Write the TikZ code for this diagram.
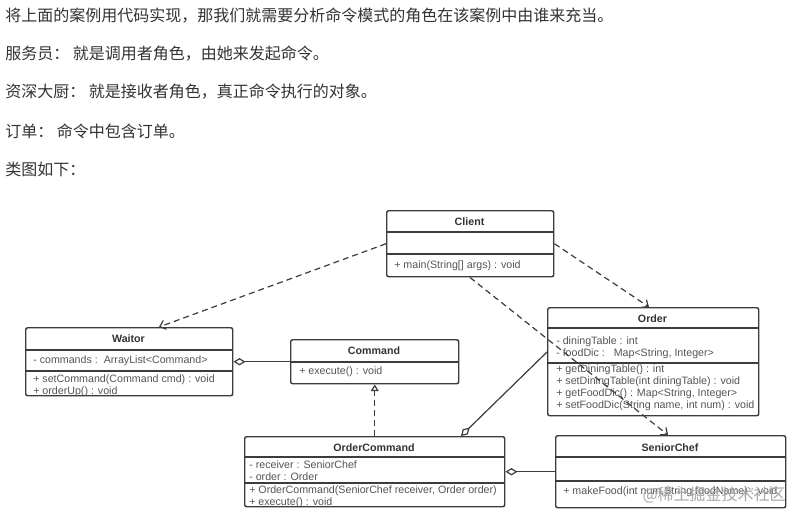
\documentclass[tikz,border=0pt]{standalone}
\usepackage{fontspec}
\setmainfont{Noto Sans CJK SC}
\newfontfamily\umlfont{Liberation Sans}
\usetikzlibrary{arrows.meta,calc}
\definecolor{txt}{HTML}{333333}
\definecolor{linec}{HTML}{3C3C3C}
\definecolor{umltxt}{HTML}{555555}
\tikzset{
  umlbox/.style={draw=linec, line width=1.1pt, rounded corners=1.5pt, inner sep=0pt, anchor=north west, fill=white},
  sepline/.style={draw=linec, line width=1pt},
  ttl/.style={font=\umlfont\bfseries\fontsize{8}{9.5}\selectfont, text=txt, inner sep=0pt},
  mem/.style={font=\umlfont\fontsize{8}{9.5}\selectfont, text=umltxt, inner sep=0pt, anchor=west},
  para/.style={font=\fontsize{12}{14}\selectfont, text=txt, inner sep=0pt, anchor=west},
  dep/.style={draw=linec, line width=0.9pt, dash pattern=on 4.5pt off 3pt, -{Straight Barb[length=4pt,width=7pt]}},
  real/.style={draw=linec, line width=0.9pt, dash pattern=on 4.5pt off 3pt, -{Triangle[open,length=5pt,width=6pt]}},
  aggr/.style={draw=linec, line width=0.9pt, {Diamond[open,length=9pt,width=5.5pt]}-},
}
\begin{document}
\begin{tikzpicture}[x=0.75pt,y=-0.75pt]
\useasboundingbox[fill=white] (0,0) rectangle (793,515);

% intro text
\node[para] (t1) at (5,16) {将上面的案例用代码实现，那我们就需要分析命令模式的角色在该案例中由谁来充当。};
\node[para] (t2) at (5,54) {服务员： 就是调用者角色，由她来发起命令。};
\node[para] (t3) at (5,92) {资深大厨： 就是接收者角色，真正命令执行的对象。};
\node[para] (t4) at (5,131) {订单： 命令中包含订单。};
\node[para] (t5) at (5,169) {类图如下：};

% Client
\node[umlbox, minimum width=167*0.75pt, minimum height=66*0.75pt] (client) at (386,210) {};
\draw[sepline] (386,232) -- (553,232);
\draw[sepline] (386,254) -- (553,254);
\node[ttl] (clientT) at (469.5,221.5) {Client};
\node[mem] (clientM) at (394,266) {+ main(String[] args) : void};

% Waitor
\node[umlbox, minimum width=207*0.75pt, minimum height=68*0.75pt] (waitor) at (25,327) {};
\draw[sepline] (25,350) -- (232,350);
\draw[sepline] (25,371) -- (232,371);
\node[ttl] (waitorT) at (128.5,339) {Waitor};
\node[mem] (waitorA) at (33,361) {- commands :\ \ ArrayList<Command>};
\node[mem] (waitorM1) at (33,380) {+ setCommand(Command cmd) : void};
\node[mem] (waitorM2) at (33,392) {+ orderUp() : void};

% Command
\node[umlbox, minimum width=168*0.75pt, minimum height=44*0.75pt] (command) at (290,339) {};
\draw[sepline] (290,362) -- (458,362);
\node[ttl] (commandT) at (374,351) {Command};
\node[mem] (commandM) at (299,372) {+ execute() : void};

% Order
\node[umlbox, minimum width=211*0.75pt, minimum height=108*0.75pt] (order) at (547,307) {};
\draw[sepline] (547,328) -- (758,328);
\draw[sepline] (547,363) -- (758,363);
\node[ttl] (orderT) at (652.5,319) {Order};
\node[mem] (orderA1) at (556,342) {- diningTable : int};
\node[mem] (orderA2) at (556,354) {- foodDic :\ \ \ Map<String, Integer>};
\node[mem] (orderM1) at (556,370) {+ getDiningTable() : int};
\node[mem] (orderM2) at (556,382) {+ setDiningTable(int diningTable) : void};
\node[mem] (orderM3) at (556,394) {+ getFoodDic() : Map<String, Integer>};
\node[mem] (orderM4) at (556,406) {+ setFoodDic(String name, int num) : void};

% OrderCommand
\node[umlbox, minimum width=260*0.75pt, minimum height=70*0.75pt] (ordercommand) at (244,436) {};
\draw[sepline] (244,457) -- (504,457);
\draw[sepline] (244,483) -- (504,483);
\node[ttl] (ordercommandT) at (374,448) {OrderCommand};
\node[mem] (ocA1) at (249,465) {- receiver : SeniorChef};
\node[mem] (ocA2) at (249,477) {- order : Order};
\node[mem] (ocM1) at (249,491) {+ OrderCommand(SeniorChef receiver, Order order)};
\node[mem] (ocM2) at (249,503) {+ execute() : void};

% SeniorChef
\node[umlbox, minimum width=230*0.75pt, minimum height=72*0.75pt] (seniorchef) at (555,435) {};
\draw[sepline] (555,457) -- (785,457);
\draw[sepline] (555,481) -- (785,481);
\node[ttl] (seniorchefT) at (670,448) {SeniorChef};
\node[mem] (scM) at (563,492) {+ makeFood(int num,String foodName) : void};

% connectors
\draw[dep] (client.west) -- ($(waitor.north west)+(134,0)$);
\draw[dep] (client.east) -- ($(order.north west)+(102,0)$);
\draw[dep] ($(client.south west)+(84,0)$) -- ($(seniorchef.north west)+(113,0)$);
\draw[aggr] (waitor.east) -- (command.west);
\draw[real] (ordercommand.north) -- (command.south);
\draw[aggr] ($(ordercommand.north west)+(217,0)$) -- ($(order.north west)+(0,45)$);
\draw[aggr] (ordercommand.east) -- (seniorchef.west);

% watermark
\node[font=\fontsize{12}{14}\selectfont, text=black!35, inner sep=0pt, anchor=east] (wm) at (786,495) {@稀土掘金技术社区};
\end{tikzpicture}
\end{document}
